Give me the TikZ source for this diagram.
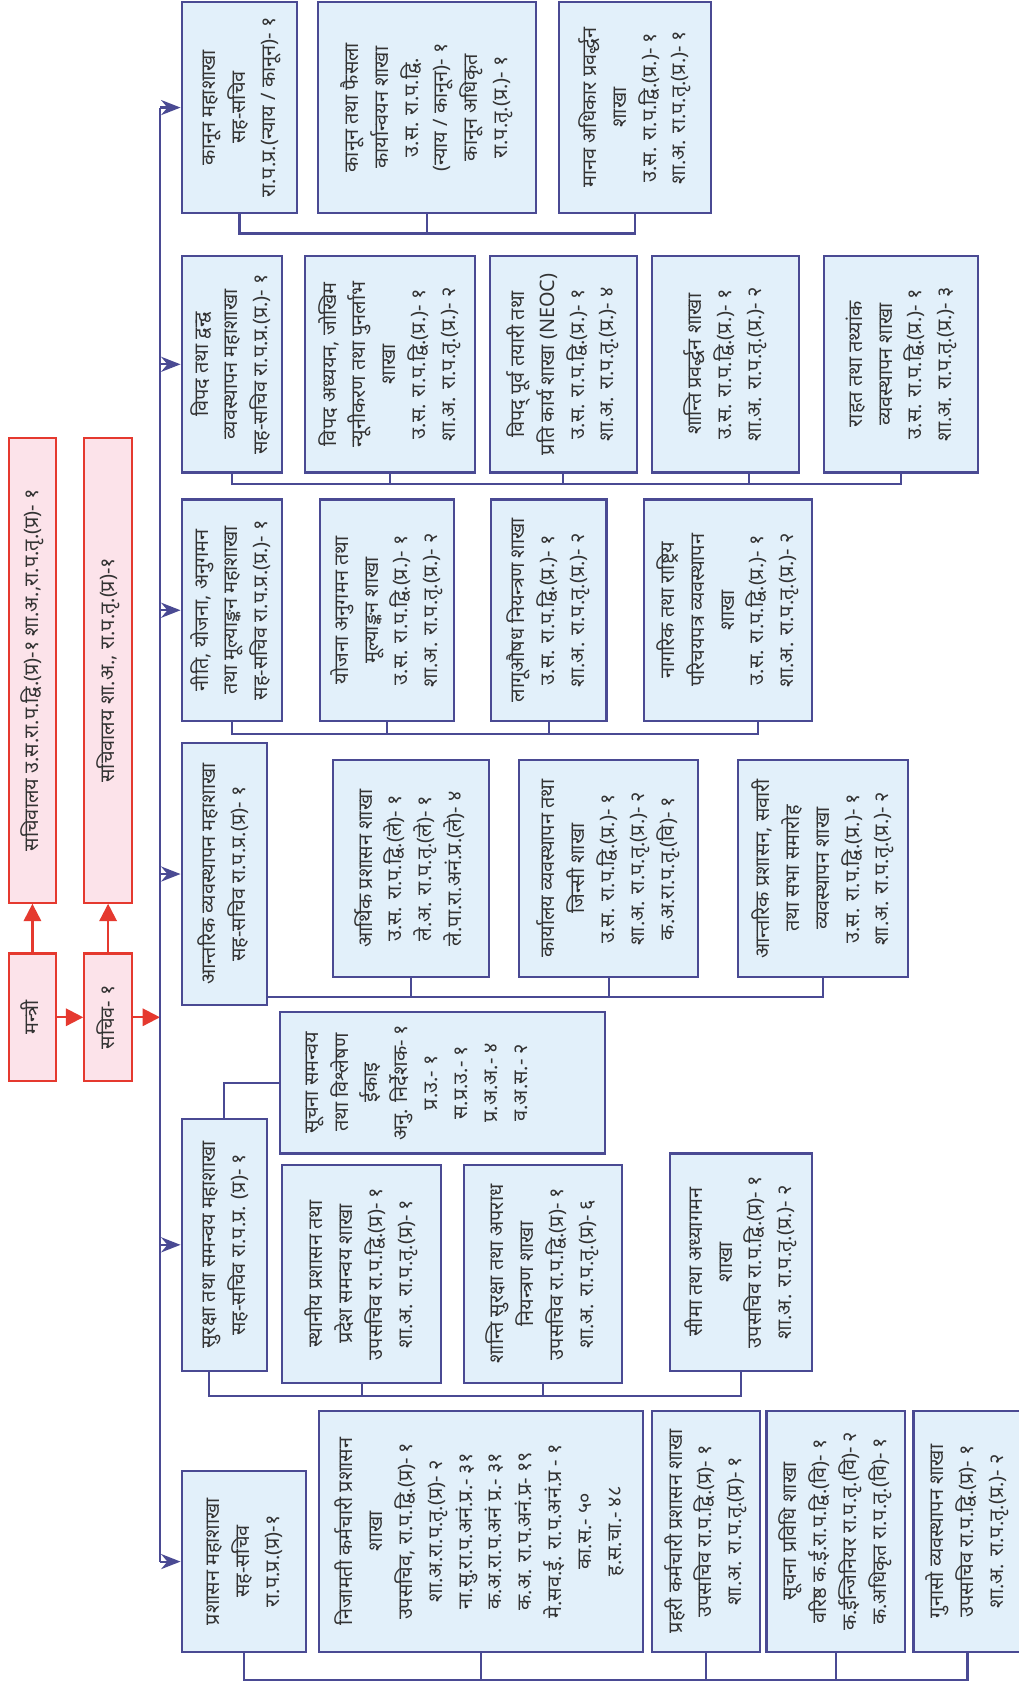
\documentclass[tikz,border=0pt]{standalone}
\usepackage{fontspec}
\setmainfont{Noto Sans}[Script=Devanagari]
\usetikzlibrary{arrows.meta,fit}
\definecolor{boxblue}{HTML}{E2F0FA}
\definecolor{lineblue}{HTML}{4A4A93}
\definecolor{boxpink}{HTML}{FCE3EA}
\definecolor{linered}{HTML}{E5392F}
\definecolor{inkgray}{HTML}{333333}
\newcommand{\boxtext}[1]{\rotatebox{90}{\begin{tabular}{@{}c@{}}#1\end{tabular}}}
\tikzset{
  every label/.style={inner sep=0pt, text=inkgray, font=\fontsize{9.2}{13.8}\selectfont},
  bluebox/.style={draw=lineblue, fill=boxblue, line width=1pt, inner sep=0pt},
  pinkbox/.style={draw=linered, fill=boxpink, line width=1pt, inner sep=0pt},
  link/.style={draw=lineblue, line width=1pt},
  feed/.style={link, -{Stealth[length=9pt,width=7pt]}},
  redfeed/.style={draw=linered, line width=1pt, -{Triangle[length=8pt,width=8pt]}}
}

\begin{document}
\begin{tikzpicture}[x=0.5pt,y=-0.5pt]
\fill [white] (0,0) rectangle (942.6,1559.6);
\useasboundingbox (0,0) rectangle (942.6,1559.6);

% minister and secretary
\node [pinkbox, fit={(8,405) (52,835)}, label=center:{\boxtext{सचिवालय उ.स.रा.प.द्वि.(प्र)-१ शा.अ.,रा.प.तृ.(प्र)- १}}] (secA) {};
\node [pinkbox, fit={(78,405) (122,835)}, label=center:{\boxtext{सचिवालय शा.अ., रा.प.तृ.(प्र)-१}}] (secB) {};
\node [pinkbox, fit={(8,882) (52,1000)}, label=center:{\boxtext{मन्त्री}}] (mantri) {};
\node [pinkbox, fit={(78,882) (122,1000)}, label=center:{\boxtext{सचिव- १}}] (sachiv) {};

\draw [redfeed] (mantri.east) -- (sachiv.west);
\draw [redfeed] (mantri.north) -- (secA.south);
\draw [redfeed] (sachiv.north) -- (secB.south);
\coordinate (bus) at (148,0);
\draw [redfeed] (sachiv.east) -- (sachiv.east -| bus);

% kanoon
\node [bluebox, fit={(168,2) (275,197)}, label=center:{\boxtext{कानून महाशाखा\\ सह-सचिव\\ रा.प.प्र.(न्याय / कानून)- १}}] (kanoon) {};
\node [bluebox, fit={(294,2) (496,197)}, label=center:{\boxtext{कानून तथा फैसला\\ कार्यान्वयन शाखा\\ उ.स. रा.प.द्वि.\\ (न्याय / कानून)- १\\ कानून अधिकृत\\ रा.प.तृ.(प्र.)- १}}] (faisala) {};
\node [bluebox, fit={(517,2) (658,197)}, label=center:{\boxtext{मानव अधिकार प्रवर्द्धन\\ शाखा\\ उ.स. रा.प.द्वि.(प्र.)- १\\ शा.अ. रा.प.तृ.(प्र.)- १}}] (manav) {};
\coordinate (r1) at (0,216);
\draw [link] (kanoon.south) -- (kanoon.south |- r1) -- (manav.south |- r1) -- (manav.south);
\draw [link] (faisala.south) -- (faisala.south |- r1);

% bipad
\node [bluebox, fit={(168,237) (261,437)}, label=center:{\boxtext{विपद तथा द्वन्द्व\\ व्यवस्थापन महाशाखा\\ सह-सचिव रा.प.प्र.(प्र.)- १}}] (bipad) {};
\node [bluebox, fit={(282,237) (439,437)}, label=center:{\boxtext{विपद अध्ययन, जोखिम\\ न्यूनीकरण तथा पुनर्लाभ\\ शाखा\\ उ.स. रा.प.द्वि.(प्र.)- १\\ शा.अ. रा.प.तृ.(प्र.)- २}}] (adhyayan) {};
\node [bluebox, fit={(453,237) (589,437)}, label=center:{\boxtext{विपद् पूर्व तयारी तथा\\ प्रति कार्य शाखा (NEOC)\\ उ.स. रा.प.द्वि.(प्र.)- १\\ शा.अ. रा.प.तृ.(प्र.)- ४}}] (purva) {};
\node [bluebox, fit={(603,237) (739,437)}, label=center:{\boxtext{शान्ति प्रवर्द्धन शाखा\\ उ.स. रा.प.द्वि.(प्र.)- १\\ शा.अ. रा.प.तृ.(प्र.)- २}}] (shanti) {};
\node [bluebox, fit={(762,237) (905,437)}, label=center:{\boxtext{राहत तथा तथ्यांक\\ व्यवस्थापन शाखा\\ उ.स. रा.प.द्वि.(प्र.)- १\\ शा.अ. रा.प.तृ.(प्र.)- ३}}] (rahat) {};
\coordinate (r2) at (0,448);
\draw [link] (bipad.south) -- (bipad.south |- r2) -- (rahat.south |- r2) -- (rahat.south);
\draw [link] (adhyayan.south) -- (adhyayan.south |- r2);
\draw [link] (purva.south) -- (purva.south |- r2);
\draw [link] ([xshift=11pt]shanti.south) -- ([xshift=11pt]shanti.south |- r2);

% niti
\node [bluebox, fit={(168,462) (261,667)}, label=center:{\boxtext{नीति, योजना, अनुगमन\\ तथा मूल्याङ्कन महाशाखा\\ सह-सचिव रा.प.प्र.(प्र.)- १}}] (niti) {};
\node [bluebox, fit={(296,462) (420,667)}, label=center:{\boxtext{योजना अनुगमन तथा\\ मूल्याङ्कन शाखा\\ उ.स. रा.प.द्वि.(प्र.)- १\\ शा.अ. रा.प.तृ.(प्र.)- २}}] (yojana) {};
\node [bluebox, fit={(454,462) (561,667)}, label=center:{\boxtext{लागूऔषध नियन्त्रण शाखा\\ उ.स. रा.प.द्वि.(प्र.)- १\\ शा.अ. रा.प.तृ.(प्र.)- २}}] (lagu) {};
\node [bluebox, fit={(596,462) (751,667)}, label=center:{\boxtext{नागरिक तथा राष्ट्रिय\\ परिचयपत्र व्यवस्थापन\\ शाखा\\ उ.स. रा.प.द्वि.(प्र.)- १\\ शा.अ. रा.प.तृ.(प्र.)- २}}] (nagarik) {};
\coordinate (r3) at (0,679);
\draw [link] (niti.south) -- (niti.south |- r3) -- ([xshift=14pt]nagarik.south |- r3) -- ([xshift=14pt]nagarik.south);
\draw [link] (yojana.south) -- (yojana.south |- r3);
\draw [link] (lagu.south) -- (lagu.south |- r3);

% antarik
\node [bluebox, fit={(168,687) (247,930)}, label=center:{\boxtext{आन्तरिक व्यवस्थापन महाशाखा\\ सह-सचिव रा.प.प्र.(प्र)- १}}] (antarik) {};
\node [bluebox, fit={(308,703) (452,904)}, label=center:{\boxtext{आर्थिक प्रशासन शाखा\\ उ.स. रा.प.द्वि.(ले)- १\\ ले.अ. रा.प.तृ.(ले)- १\\ ले.पा.रा.अनं.प्र.(ले)- ४}}] (arthik) {};
\node [bluebox, fit={(480,703) (646,904)}, label=center:{\boxtext{कार्यालय व्यवस्थापन तथा\\ जिन्सी शाखा\\ उ.स. रा.प.द्वि.(प्र.)- १\\ शा.अ. रा.प.तृ.(प्र.)- २\\ क.अ.रा.प.तृ.(वि)- १}}] (karyalaya) {};
\node [bluebox, fit={(683,703) (840,904)}, label=center:{\boxtext{आन्तरिक प्रशासन, सवारी\\ तथा सभा समारोह\\ व्यवस्थापन शाखा\\ उ.स. रा.प.द्वि.(प्र.)- १\\ शा.अ. रा.प.तृ.(प्र.)- २}}] (sawari) {};
\coordinate (r4) at (0,922);
\draw [link] (antarik.east |- r4) -- (sawari.south |- r4) -- (sawari.south);
\draw [link] (arthik.south) -- (arthik.south |- r4);
\draw [link] (karyalaya.south) -- (karyalaya.south |- r4);

% suraksha
\node [bluebox, fit={(168,1035) (247,1268)}, label=center:{\boxtext{सुरक्षा तथा समन्वय महाशाखा\\ सह-सचिव रा.प.प्र. (प्र)- १}}] (suraksha) {};
\node [bluebox, fit={(259,936) (560,1067)}, label=center:{\boxtext{सूचना समन्वय\\ तथा विश्लेषण\\ ईकाइ\\ अनु. निर्देशक- १\\ प्र.उ.- १\\ स.प्र.उ.- १\\ प्र.अ.अ.- ४\\ व.अ.स.- २}\hspace*{24pt}}] (soochana) {};
\node [bluebox, fit={(261,1078) (408,1279)}, label=center:{\boxtext{स्थानीय प्रशासन तथा\\ प्रदेश समन्वय शाखा\\ उपसचिव रा.प.द्वि.(प्र)- १\\ शा.अ. रा.प.तृ.(प्र)- १}}] (sthaniya) {};
\node [bluebox, fit={(429,1078) (575,1279)}, label=center:{\boxtext{शान्ति सुरक्षा तथा अपराध\\ नियन्त्रण शाखा\\ उपसचिव रा.प.द्वि.(प्र)- १\\ शा.अ. रा.प.तृ.(प्र)- ६}}] (apradh) {};
\node [bluebox, fit={(620,1067) (751,1268)}, label=center:{\boxtext{सीमा तथा अध्यागमन\\ शाखा\\ उपसचिव रा.प.द्वि.(प्र)- १\\ शा.अ. रा.प.तृ.(प्र.)- २}}] (seema) {};
\draw [link] (suraksha.north) |- (soochana.west);
\coordinate (r5) at (0,1291);
\draw [link] ([xshift=-7pt]suraksha.south) -- ([xshift=-7pt]suraksha.south |- r5) -- (seema.south |- r5) -- (seema.south);
\draw [link] (sthaniya.south) -- (sthaniya.south |- r5);
\draw [link] (apradh.south) -- (apradh.south |- r5);

% prashasan
\node [bluebox, fit={(168,1361) (283,1528)}, label=center:{\boxtext{प्रशासन महाशाखा\\ सह-सचिव\\ रा.प.प्र.(प्र)-१}}] (prashasan) {};
\node [bluebox, fit={(295,1305) (595,1528)}, label=center:{\boxtext{निजामती कर्मचारी प्रशासन\\ शाखा\\ उपसचिव, रा.प.द्वि.(प्र)- १\\ शा.अ.रा.प.तृ.(प्र)- २\\ ना.सु.रा.प.अनं.प्र.- ३१\\ क.अ.रा.प.अनं प्र.- ३१\\ क.अ. रा.प.अनं.प्र- १९\\ मे.सव.ई. रा.प.अनं.प्र - १\\ का.स.- ५०\\ ह.स.चा.- ४८}}] (nijamati) {};
\node [bluebox, fit={(603,1305) (703,1528)}, label=center:{\boxtext{प्रहरी कर्मचारी प्रशासन शाखा\\ उपसचिव रा.प.द्वि.(प्र)- १\\ शा.अ. रा.प.तृ.(प्र)- १}}] (prahari) {};
\node [bluebox, fit={(709,1305) (837,1528)}, label=center:{\boxtext{सूचना प्रविधि शाखा\\ वरिष्ठ क.ई.रा.प.द्वि.(वि)- १\\ क.ईन्जिनियर रा.प.तृ.(वि)- २\\ क.अधिकृत रा.प.तृ.(वि)- १}}] (pravidhi) {};
\node [bluebox, fit={(845,1305) (945,1528)}, label=center:{\boxtext{गुनासो व्यवस्थापन शाखा\\ उपसचिव रा.प.द्वि.(प्र)- १\\ शा.अ. रा.प.तृ.(प्र.)- २}}] (gunaso) {};
\coordinate (r6) at (0,1554);
\draw [link] (prashasan.south) -- (prashasan.south |- r6) -- (gunaso.south |- r6) -- (gunaso.south);
\draw [link] (nijamati.south) -- (nijamati.south |- r6);
\draw [link] (prahari.south) -- (prahari.south |- r6);
\draw [link] (pravidhi.south) -- (pravidhi.south |- r6);

% bus to the divisions
\draw [link] (kanoon.west -| bus) -- (prashasan.west -| bus);
\draw [feed] (kanoon.west -| bus) -- (kanoon.west);
\draw [feed] (bipad.west -| bus) -- (bipad.west);
\draw [feed] (niti.west -| bus) -- (niti.west);
\draw [feed] (antarik.west -| bus) -- (antarik.west);
\draw [feed] (suraksha.west -| bus) -- (suraksha.west);
\draw [feed] (prashasan.west -| bus) -- (prashasan.west);
\end{tikzpicture}
\end{document}
